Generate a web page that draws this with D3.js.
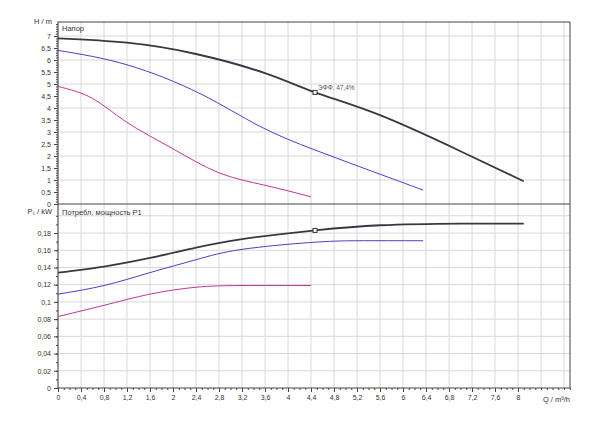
<!DOCTYPE html><html><head><meta charset="utf-8"><script src="https://cdn.jsdelivr.net/npm/d3@7"></script>
<style>body{margin:0;background:#fff}svg{font-family:Arial,"Liberation Sans",sans-serif}</style></head><body><svg id="c" width="600" height="424"></svg><script>
const qTicks=[0,0.4,0.8,1.2,1.6,2,2.4,2.8,3.2,3.6,4,4.4,4.8,5.2,5.6,6,6.4,6.8,7.2,7.6,8];
const hTicks=[0,0.5,1,1.5,2,2.5,3,3.5,4,4.5,5,5.5,6,6.5,7];
const pTicks=[0,0.02,0.04,0.06,0.08,0.1,0.12,0.14,0.16,0.18];
const hBlack=[[0,6.9],[1.2,6.72],[2.4,6.25],[3.6,5.45],[4.47,4.65],[5.6,3.7],[7,2.2],[8.1,0.95]];
const hBlue=[[0,6.4],[1.2,5.8],[2.47,4.6],[3.5,3.25],[4.47,2.25],[5.5,1.33],[6.35,0.58]];
const hMag=[[0,4.9],[0.6,4.4],[1.2,3.4],[2,2.3],[2.8,1.3],[3.6,0.78],[4.4,0.3]];
const pBlack=[[0,0.134],[0.8,0.141],[1.6,0.151],[2.4,0.163],[3.2,0.173],[4.47,0.183],[5.6,0.189],[7,0.191],[8.1,0.191]];
const pBlue=[[0,0.109],[0.8,0.119],[1.6,0.134],[2.4,0.149],[3.2,0.161],[4.4,0.169],[5.2,0.171],[6.35,0.171]];
const pMag=[[0,0.083],[0.8,0.096],[1.6,0.109],[2.4,0.117],[3.2,0.119],[4.4,0.119]];
const opPoint=[4.47,4.65,0.183];
const svg=d3.select("#c");
const L=58,R=570,T=22,M=204,B=388;
const x=d3.scaleLinear().domain([0,8]).range([L,518]);
const yH=d3.scaleLinear().domain([0,7]).range([M,36]);
const yP=d3.scaleLinear().domain([0,0.18]).range([B,233]);
const gx=d3.range(0,9.0,0.4);
svg.append("g").selectAll("line").data(gx).join("line").attr("x1",d=>x(d)).attr("x2",d=>x(d)).attr("y1",T).attr("y2",B).attr("stroke","#d8d8d8");
svg.append("g").selectAll("line").data(d3.range(1,8)).join("line").attr("x1",L).attr("x2",R).attr("y1",d=>yH(d)).attr("y2",d=>yH(d)).attr("stroke","#d8d8d8");
svg.append("g").selectAll("line").data(d3.range(1,11).map(i=>i*0.02)).join("line").attr("x1",L).attr("x2",R).attr("y1",d=>yP(d)).attr("y2",d=>yP(d)).attr("stroke","#d8d8d8");
svg.append("rect").attr("x",L).attr("y",T).attr("width",R-L).attr("height",B-T).attr("fill","none").attr("stroke","#444");
svg.append("line").attr("x1",L).attr("x2",R).attr("y1",M).attr("y2",M).attr("stroke","#444");
const fmt=d=>String(+d.toFixed(2)).replace(".",",");
svg.append("g").attr("transform",`translate(${L},0)`).call(d3.axisLeft(yH).tickValues(hTicks).tickFormat(fmt).tickSize(4));
svg.append("g").attr("transform",`translate(${L},0)`).call(d3.axisLeft(yH).tickValues(d3.range(0,76).map(i=>i/10)).tickFormat("").tickSize(2));
svg.append("g").attr("transform",`translate(${L},0)`).call(d3.axisLeft(yP).tickValues(pTicks).tickFormat(fmt).tickSize(4));
svg.append("g").attr("transform",`translate(${L},0)`).call(d3.axisLeft(yP).tickValues(d3.range(0,21).map(i=>i/100)).tickFormat("").tickSize(2));
svg.append("g").attr("transform",`translate(0,${B})`).call(d3.axisBottom(x).tickValues(qTicks).tickFormat(fmt).tickSize(4));
svg.append("g").attr("transform",`translate(0,${B})`).call(d3.axisBottom(x).tickValues(d3.range(0,90).map(i=>i/10)).tickFormat("").tickSize(2));
svg.selectAll(".domain").remove();
svg.selectAll(".tick line").attr("stroke","#444");
svg.selectAll(".tick text").attr("font-size",7).attr("fill","#333");
const t=(s,X,Y,a)=>svg.append("text").attr("x",X).attr("y",Y).attr("font-size",7.5).attr("fill","#333").attr("text-anchor",a||"start").text(s);
t("H / m",52,24,"end");t("Напор",62,31);
t("P₁ / kW",52,214,"end");t("Потребл. мощность P1",62,215);
t("Q / m³/h",570,402,"end");
const line=(d,y,c,w)=>svg.append("path").datum(d).attr("d",d3.line().x(p=>x(p[0])).y(p=>y(p[1])).curve(d3.curveNatural)).attr("fill","none").attr("stroke",c).attr("stroke-width",w);
line(hMag,yH,"#c0369a",1);line(hBlue,yH,"#4b3fc8",1);line(hBlack,yH,"#333a45",1.8);
line(pMag,yP,"#c0369a",1);line(pBlue,yP,"#4b3fc8",1);line(pBlack,yP,"#333a45",1.8);
svg.append("rect").attr("x",x(opPoint[0])-2).attr("y",yH(opPoint[1])-2).attr("width",4).attr("height",4).attr("fill","#fff").attr("stroke","#333");
svg.append("rect").attr("x",x(opPoint[0])-2).attr("y",yP(opPoint[2])-2).attr("width",4).attr("height",4).attr("fill","#fff").attr("stroke","#333");
svg.append("text").attr("x",x(opPoint[0])+3).attr("y",yH(opPoint[1])-2).attr("font-size",6.5).attr("fill","#556").text("ЭФФ.  47,4%");
</script></body></html>
